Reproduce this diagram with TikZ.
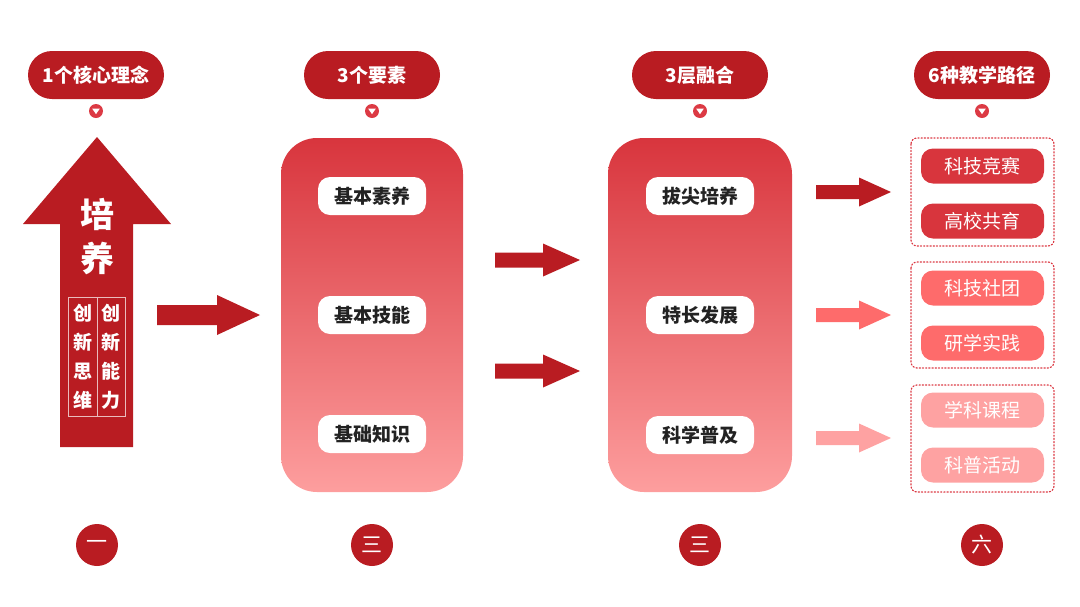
\documentclass[tikz,border=0pt]{standalone}
\usepackage{fontspec}
\setmainfont{Noto Sans CJK SC}
\definecolor{dred}{HTML}{B91C22}
\definecolor{ptop}{HTML}{D8353D}
\definecolor{pbot}{HTML}{FD9E9E}
\definecolor{mred}{HTML}{FE6B6B}
\definecolor{lred}{HTML}{FEA2A2}
\definecolor{mkred}{HTML}{DC3A44}
\definecolor{ink}{HTML}{222222}
\newcommand\hArrow[7]{% x0,x1,y,shafthalf,headhalf,headlen,color
  \fill[#7] (#1,#3-#4) -- (#2-#6,#3-#4) -- (#2-#6,#3-#5) -- (#2,#3) -- (#2-#6,#3+#5) -- (#2-#6,#3+#4) -- (#1,#3+#4) -- cycle;}
\tikzset{
  header/.style={fill=dred, rounded corners=24pt, minimum width=136pt, minimum height=48pt, inner sep=0pt, text=white, font=\bfseries\fontsize{19}{19}\selectfont},
  wpill/.style={fill=white, rounded corners=12pt, minimum width=108pt, minimum height=38pt, inner sep=0pt, text=ink, font=\bfseries\fontsize{19}{19}\selectfont},
  rpill/.style={rounded corners=12pt, minimum width=123pt, minimum height=35pt, inner sep=0pt, text=white, font=\fontsize{19}{19}\selectfont},
  numc/.style={circle, fill=dred, minimum size=42pt, inner sep=0pt, text=white, font=\fontsize{21}{21}\selectfont},
  grp/.style={draw=mkred, dash pattern=on 1.2pt off 2pt, line width=1.2pt, line cap=round, rounded corners=6pt},
  vtext/.style={text=white, font=\bfseries\fontsize{19}{29}\selectfont, align=center, inner sep=0pt}
}
\begin{document}
\begin{tikzpicture}[x=1pt,y=-1pt]
\useasboundingbox (0,0) rectangle (1080,606);
% headers
\foreach \x/\t/\n in {96/1个核心理念/h1,372/3个要素/h2,700/3层融合/h3,982/6种教学路径/h4}{
  \node[header] (\n) at (\x,75) {\t};
  \fill[mkred] (\x,111) circle (7);
  \fill[white] (\x-3.8,108.6) -- (\x+3.8,108.6) -- (\x,114.2) -- cycle;
}
% big up arrow
\fill[dred] (97,137) -- (171,224) -- (133,224) -- (133,447) -- (60,447) -- (60,224) -- (23,224) -- cycle;
\node[text=white, font=\bfseries\fontsize{34}{34}\selectfont] (pei) at (97,214) {培};
\node[text=white, font=\bfseries\fontsize{34}{34}\selectfont] (yang) at (97,258) {养};
\draw[white!70!dred, line width=0.8pt] (68,297) rectangle (125,416);
\draw[white!70!dred, line width=0.8pt] (97,297) -- (97,416);
\node[vtext] (sw) at (82.5,357) {创\\新\\思\\维};
\node[vtext] (nl) at (111,357) {创\\新\\能\\力};
% arrow 1
\hArrow{157}{260}{315}{10}{20}{43}{dred}
% panels
\shade[top color=ptop, bottom color=pbot, rounded corners=36pt] (281,138) rectangle (463,492);
\shade[top color=ptop, bottom color=pbot, rounded corners=36pt] (608,138) rectangle (792,492);
\node[wpill] (a1) at (372,196) {基本素养};
\node[wpill] (a2) at (372,315) {基本技能};
\node[wpill] (a3) at (372,434) {基础知识};
\node[wpill] (b1) at (700,196) {拔尖培养};
\node[wpill] (b2) at (700,315) {特长发展};
\node[wpill] (b3) at (700,435) {科学普及};
% middle arrows
\hArrow{495}{580}{260}{7.5}{16.5}{37}{dred}
\hArrow{495}{580}{371}{7.5}{16.5}{37}{dred}
% right arrows
\hArrow{816}{891}{192}{7}{14.5}{32}{dred}
\hArrow{816}{891}{315}{7}{14.5}{32}{mred}
\hArrow{816}{891}{438}{7}{14.5}{32}{lred}
% groups
\draw[grp] (911,138) rectangle (1054,246);
\draw[grp] (911,262) rectangle (1054,368);
\draw[grp] (911,385) rectangle (1054,492);
\node[rpill, fill=ptop] (c1) at (982.5,166) {科技竞赛};
\node[rpill, fill=ptop] (c2) at (982.5,221) {高校共育};
\node[rpill, fill=mred] (c3) at (982.5,288) {科技社团};
\node[rpill, fill=mred] (c4) at (982.5,343) {研学实践};
\node[rpill, fill=lred] (c5) at (982.5,410) {学科课程};
\node[rpill, fill=lred] (c6) at (982.5,465) {科普活动};
% bottom numbers
\node[numc] (n1) at (97,545) {一};
\node[numc] (n2) at (372,545) {三};
\node[numc] (n3) at (700,545) {三};
\node[numc] (n4) at (982,545) {六};
\end{tikzpicture}
\end{document}
